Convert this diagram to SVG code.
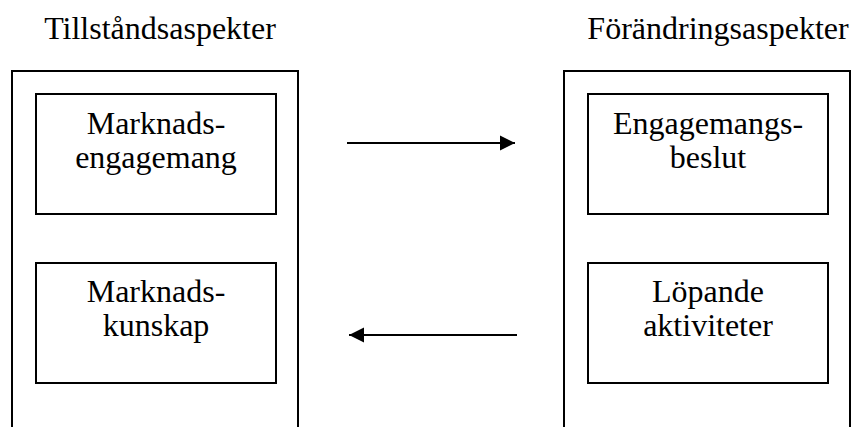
<svg xmlns="http://www.w3.org/2000/svg" width="853" height="427" viewBox="0 0 853 427">
  <style>
    .frame { fill: none; stroke: #000; stroke-width: 2; }
    .box { fill: #fff; stroke: #000; stroke-width: 2; }
    text { font-family: 'Liberation Serif', 'DejaVu Serif', serif; font-size: 32px; fill: #000; text-anchor: middle; }
    .link { stroke: #000; stroke-width: 2; fill: none; }
  </style>
  <defs>
    <marker id="head" markerUnits="userSpaceOnUse" markerWidth="16" markerHeight="16" viewBox="0 0 16 16" refX="15" refY="8" orient="auto">
      <polygon points="0,0.5 15,8 0,15.5" fill="#000"/>
    </marker>
  </defs>
  <rect width="853" height="427" fill="#fff"/>

  <g font-family="Liberation Serif, DejaVu Serif, serif">
    <!-- state aspects column -->
    <g id="state-column">
      <text x="160" y="39">Tillståndsaspekter</text>
      <path class="frame" d="M12,427 V71 H298 V427"/>
    </g>
    <g id="market-commitment">
      <rect class="box" x="36" y="94" width="240" height="120"/>
      <text x="156" y="134">Marknads-</text>
      <text x="156" y="167.5">engagemang</text>
    </g>
    <g id="market-knowledge">
      <rect class="box" x="36" y="263" width="240" height="120"/>
      <text x="156" y="302">Marknads-</text>
      <text x="156" y="336">kunskap</text>
    </g>

    <!-- change aspects column -->
    <g id="change-column">
      <text x="718" y="39">Förändringsaspekter</text>
      <path class="frame" d="M564,427 V71 H850 V427"/>
    </g>
    <g id="commitment-decisions">
      <rect class="box" x="588" y="94" width="240" height="120"/>
      <text x="708" y="134">Engagemangs-</text>
      <text x="708" y="167.5">beslut</text>
    </g>
    <g id="current-activities">
      <rect class="box" x="588" y="263" width="240" height="120"/>
      <text x="708" y="302">Löpande</text>
      <text x="708" y="336">aktiviteter</text>
    </g>
  </g>

  <!-- connectors -->
  <g id="connectors">
    <line class="link" x1="347" y1="143" x2="515" y2="143" marker-end="url(#head)"/>
    <line class="link" x1="517" y1="335" x2="349" y2="335" marker-end="url(#head)"/>
  </g>
</svg>
